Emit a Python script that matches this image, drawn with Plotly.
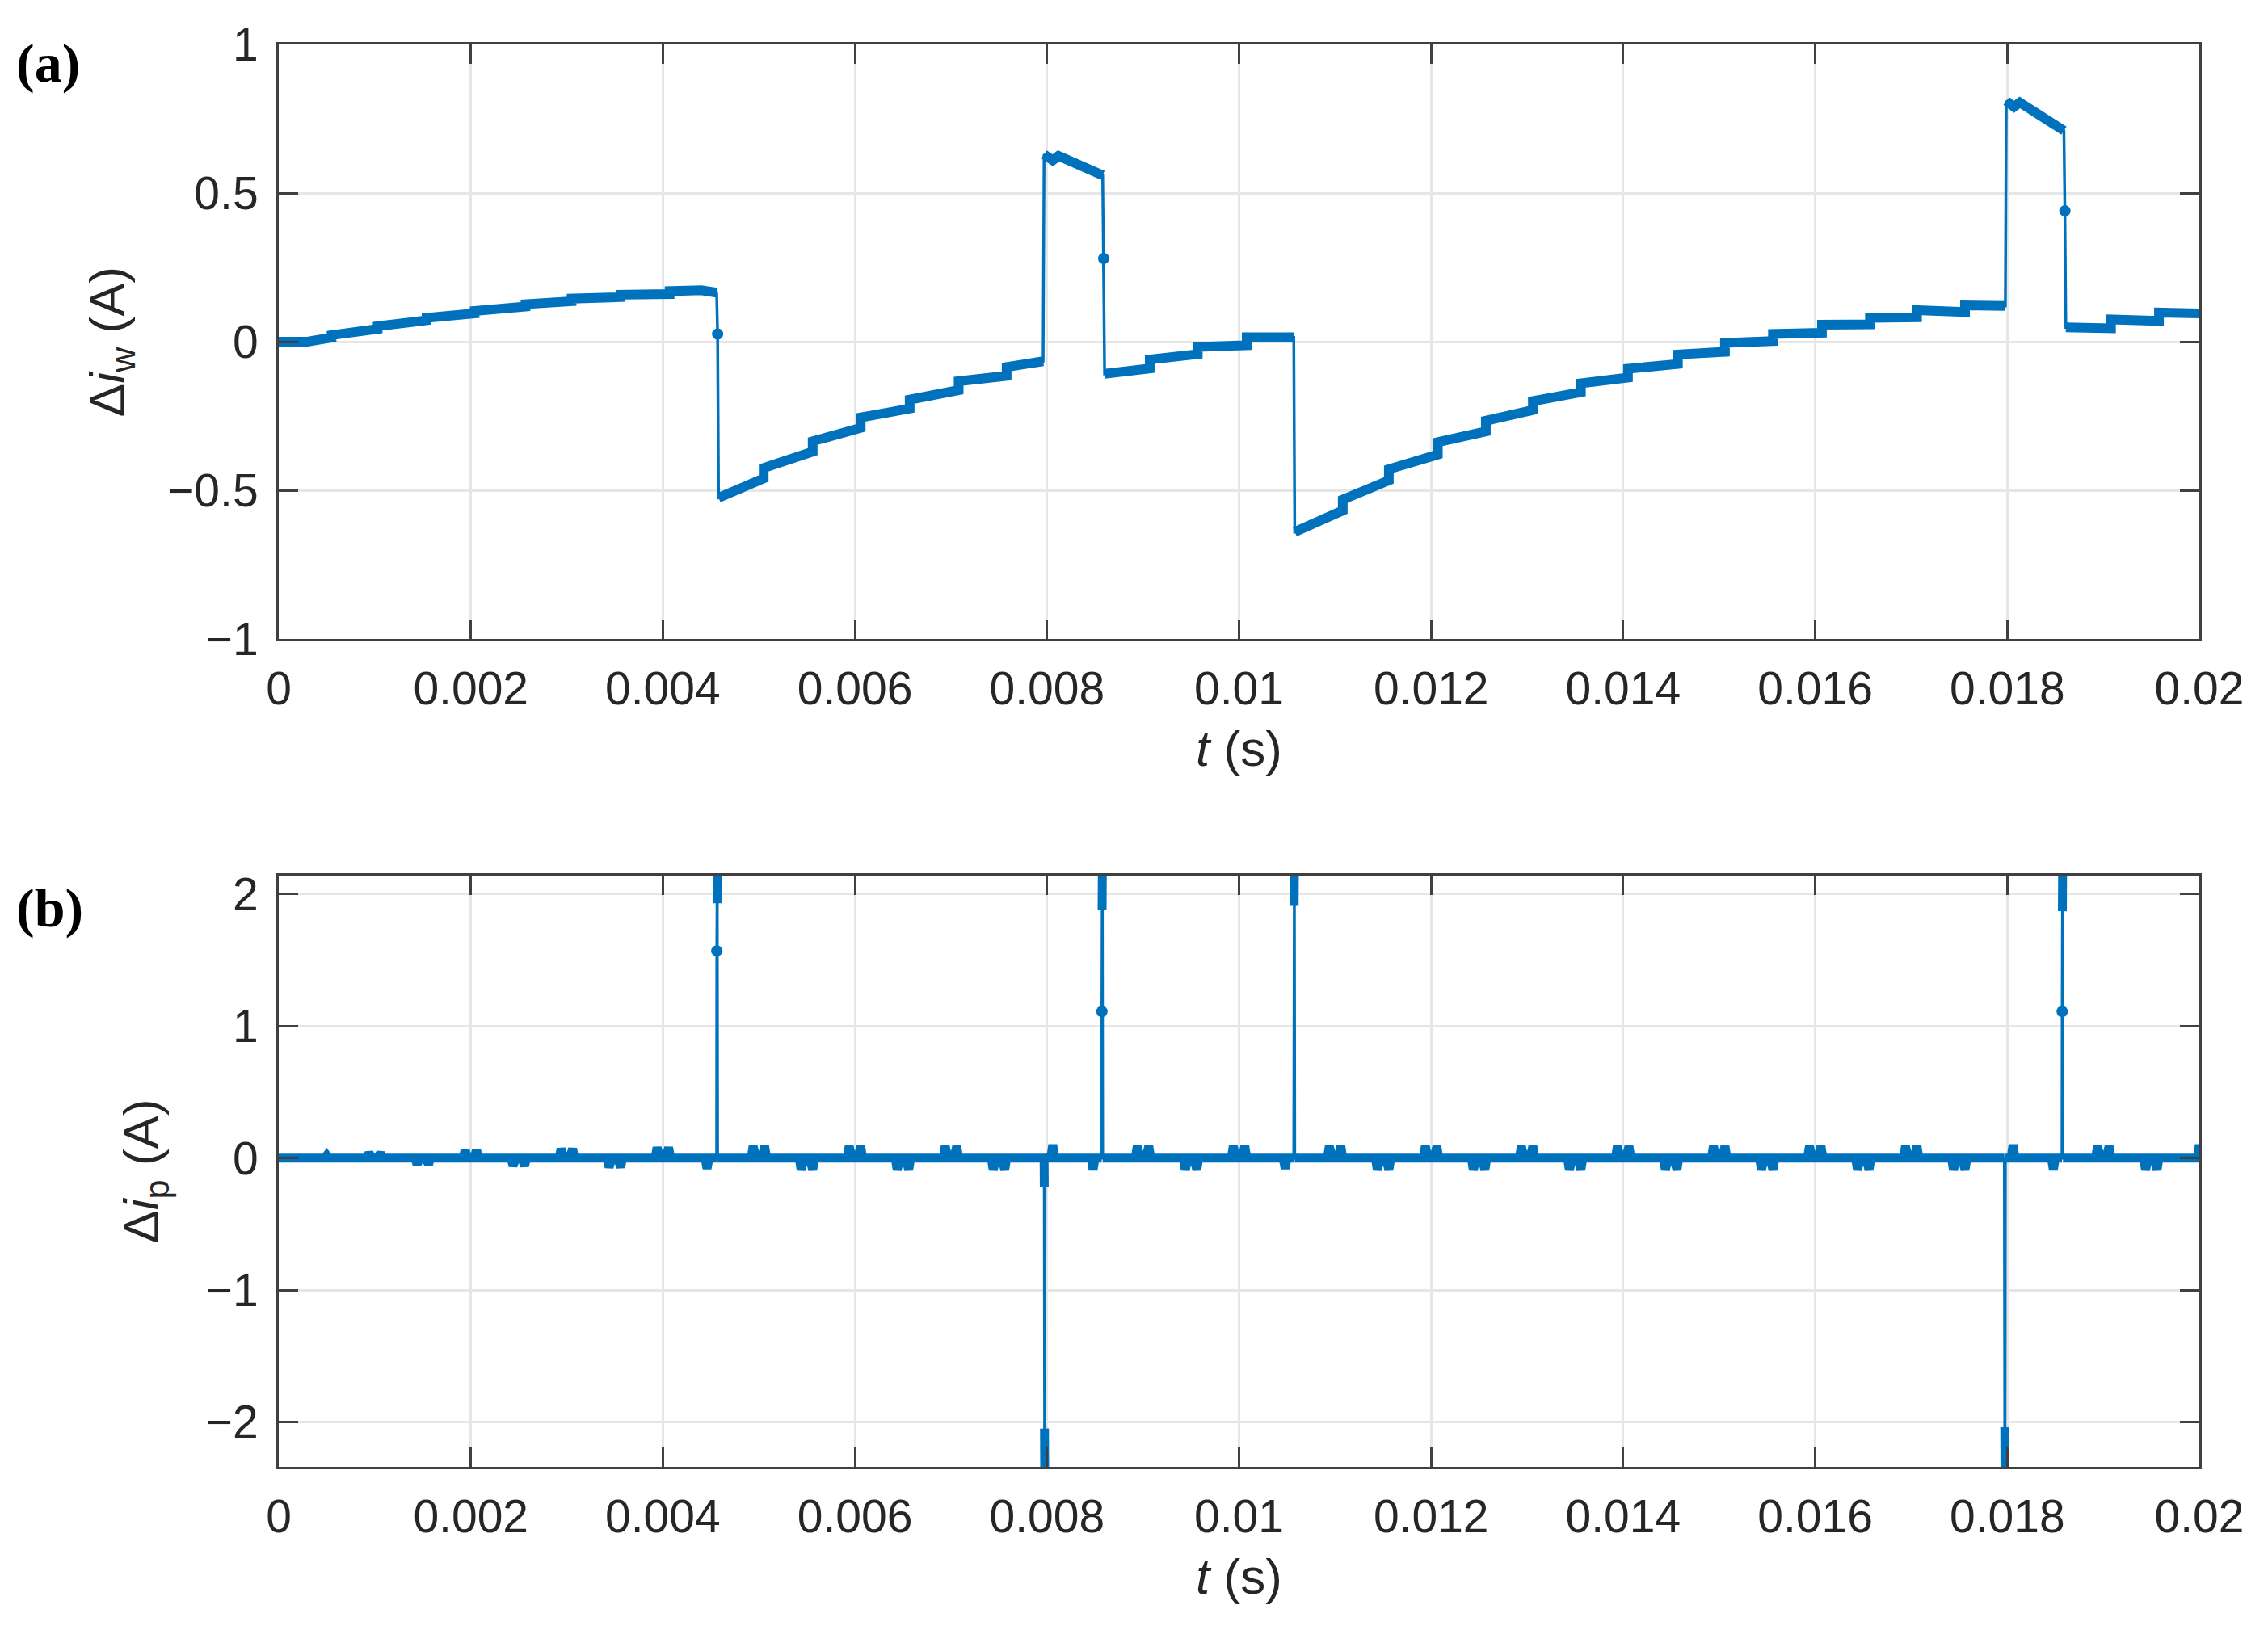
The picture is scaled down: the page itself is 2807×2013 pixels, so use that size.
import plotly.graph_objects as go

BLUE = "#0072BD"
AXC = "#404040"
GRID = "#e6e6e6"
FONT = "Liberation Sans"

# ---------------- data: panel (a) Δi_w (A) ----------------
t_w = [0.0000, 0.0003, 0.00055, 0.00055, 0.00103, 0.00103, 0.00154, 0.00154,
       0.00204, 0.00204, 0.00257, 0.00257, 0.00305, 0.00305, 0.00356, 0.00356,
       0.00407, 0.00407, 0.00440, 0.00456, 0.00457, 0.00458,
       0.00505, 0.00505, 0.00556, 0.00556, 0.00606, 0.00606, 0.00657, 0.00657,
       0.00708, 0.00708, 0.00758, 0.00758, 0.00796, 0.00797, 0.00806, 0.00812,
       0.00858, 0.00859, 0.00860,
       0.00907, 0.00907, 0.00957, 0.00957, 0.01008, 0.01008, 0.01040, 0.01057,
       0.01058,
       0.01108, 0.01108, 0.01156, 0.01156, 0.01207, 0.01207, 0.01257, 0.01257,
       0.01306, 0.01306, 0.01356, 0.01356, 0.01405, 0.01405, 0.01457, 0.01457,
       0.01506, 0.01506, 0.01556, 0.01556, 0.01607, 0.01607, 0.01657, 0.01657,
       0.01706, 0.01706, 0.01756, 0.01756, 0.01798, 0.01799, 0.01807, 0.01813,
       0.01859, 0.01860, 0.01861,
       0.01908, 0.01908, 0.01958, 0.01958, 0.02000]
i_w = [0.000, 0.000, 0.014, 0.022, 0.043, 0.052, 0.072, 0.080,
       0.095, 0.103, 0.118, 0.126, 0.136, 0.145, 0.150, 0.158,
       0.160, 0.170, 0.173, 0.165, 0.026, -0.525,
       -0.460, -0.425, -0.370, -0.335, -0.290, -0.255, -0.225, -0.195,
       -0.163, -0.133, -0.115, -0.085, -0.066, 0.630, 0.610, 0.625,
       0.560, 0.280, -0.108,
       -0.090, -0.060, -0.042, -0.018, -0.012, 0.015, 0.020, 0.015,
       -0.640,
       -0.568, -0.531, -0.467, -0.429, -0.380, -0.338, -0.302, -0.266,
       -0.230, -0.200, -0.170, -0.140, -0.121, -0.091, -0.075, -0.043,
       -0.034, -0.004, 0.002, 0.026, 0.030, 0.057, 0.058, 0.080,
       0.082, 0.106, 0.100, 0.122, 0.120, 0.810, 0.790, 0.805,
       0.710, 0.440, 0.048,
       0.045, 0.075, 0.070, 0.098, 0.095]

# ---------------- data: panel (b) Δi_p (A) ----------------
pair_t = [0.0010, 0.0015, 0.0020, 0.0025, 0.0030, 0.0035, 0.0040,
          0.0050, 0.0055, 0.0060, 0.0065, 0.0070, 0.0075,
          0.0090, 0.0095, 0.0100, 0.0110, 0.0115, 0.0120, 0.0125,
          0.0130, 0.0135, 0.0140, 0.0145, 0.0150, 0.0155, 0.0160,
          0.0165, 0.0170, 0.0175, 0.0190, 0.0195]
pair_amp = [0.04, -0.05, 0.06, -0.06, 0.07, -0.07, 0.08,
            0.09, -0.09, 0.09, -0.09, 0.09, -0.09,
            0.09, -0.09, 0.09, 0.09, -0.09, 0.09, -0.09,
            0.09, -0.09, 0.09, -0.09, 0.09, -0.09, 0.09,
            -0.09, 0.09, -0.09, 0.09, -0.09]
single_t = [0.0005, 0.00446, 0.00806, 0.00848, 0.01048, 0.01806, 0.01848, 0.0200]
single_amp = [0.02, -0.08, 0.10, -0.09, -0.08, 0.10, -0.09, 0.10]
spike_t = [0.00456, 0.00797, 0.00857, 0.01057, 0.01797, 0.01857]
spike_mid = [1.57, -0.22, 1.11, None, None, 1.11]
spike_near = [1.93, -2.05, 1.88, 1.91, -2.04, 1.87]
spike_tip = [2.14, -2.34, 2.14, 2.14, -2.34, 2.14]

# ---------------- ticks ----------------
x_ticks = [0, 0.002, 0.004, 0.006, 0.008, 0.01, 0.012, 0.014, 0.016, 0.018, 0.02]
x_text = ["0", "0.002", "0.004", "0.006", "0.008", "0.01", "0.012", "0.014",
          "0.016", "0.018", "0.02"]
ya_ticks = [-1, -0.5, 0, 0.5, 1]
ya_text = ["\u22121", "\u22120.5", "0", "0.5", "1"]
yb_ticks = [-2, -1, 0, 1, 2]
yb_text = ["\u22122", "\u22121", "0", "1", "2"]


# ---------------- build panel (b) sample sequence ----------------
pts = [(0.0, 0.0)]
pair_shape = [(-0.00008, 0), (-0.00006, 1), (-0.00003, 0), (0.00003, 0), (0.00006, 1), (0.00008, 0)]
for c, a in zip(pair_t, pair_amp):
    pts += [(c + dt, a * k) for dt, k in pair_shape]
for c, a in zip(single_t, single_amp):
    pts += [(c - 0.00002, 0.0), (c, a), (c + 0.00002, 0.0)]
for c, m, n, tp in zip(spike_t, spike_mid, spike_near, spike_tip):
    seq = [(c, 0.0)]
    if m is not None:
        seq.append((c + 0.000002, m))
    seq += [(c + 0.000004, n), (c + 0.000006, tp), (c + 0.00001, 0.0)]
    pts += seq
pts.sort(key=lambda p: p[0])
t_p = [p[0] for p in pts]
i_p = [p[1] for p in pts]


def split_traces(t, v, thr):
    """thick pieces (gaps at large jumps) and isolated points"""
    tx, ty = [], []
    iso_x, iso_y = [], []
    n = len(t)
    for k in range(n):
        if k > 0 and abs(v[k] - v[k - 1]) > thr:
            tx.append(None)
            ty.append(None)
        tx.append(t[k])
        ty.append(v[k])
        left = k == 0 or abs(v[k] - v[k - 1]) > thr
        right = k == n - 1 or abs(v[k + 1] - v[k]) > thr
        if left and right:
            iso_x.append(t[k])
            iso_y.append(v[k])
    return tx, ty, iso_x, iso_y


fig = go.Figure()


def add_series(t, v, thr, xa, ya, thick):
    tx, ty, ix, iy = split_traces(t, v, thr)
    fig.add_trace(go.Scatter(x=t, y=v, mode="lines", line=dict(color=BLUE, width=3.5),
                             xaxis=xa, yaxis=ya, showlegend=False, hoverinfo="skip"))
    fig.add_trace(go.Scatter(x=tx, y=ty, mode="lines", line=dict(color=BLUE, width=thick),
                             connectgaps=False, xaxis=xa, yaxis=ya, showlegend=False,
                             hoverinfo="skip"))
    fig.add_trace(go.Scatter(x=ix, y=iy, mode="markers", marker=dict(color=BLUE, size=14),
                             xaxis=xa, yaxis=ya, showlegend=False, hoverinfo="skip"))


add_series(t_w, i_w, 0.1, "x", "y", 12)
add_series(t_p, i_p, 0.3, "x2", "y2", 11)

W, H = 2807, 2013
xdom = [337 / W, 2714 / W]
ya_dom = [1 - 783 / H, 1 - 47 / H]
yb_dom = [1 - 1808 / H, 1 - 1076 / H]

common_x = dict(range=[0, 0.02], tickvals=x_ticks, ticktext=x_text, showgrid=True,
                gridcolor=GRID, gridwidth=2.5, zeroline=False, showline=True,
                linecolor=AXC, linewidth=3, mirror="ticks", ticks="inside", ticklen=24,
                tickwidth=3, tickcolor=AXC, tickfont=dict(family=FONT, size=57, color="#262626"),
                ticklabelstandoff=10, domain=xdom, automargin=False)
common_y = dict(showgrid=True, gridcolor=GRID, gridwidth=2.5, zeroline=False, showline=True,
                linecolor=AXC, linewidth=3, mirror="ticks", ticks="inside", ticklen=24,
                tickwidth=3, tickcolor=AXC, tickfont=dict(family=FONT, size=57, color="#262626"),
                ticklabelstandoff=11, automargin=False)

xtitle = dict(text="<i>t</i> (s)", font=dict(family=FONT, size=62, color="#262626"), standoff=22)

fig.update_layout(
    width=W, height=H,
    margin=dict(l=0, r=0, t=0, b=0, autoexpand=False),
    paper_bgcolor="white", plot_bgcolor="white",
    xaxis=dict(**common_x, anchor="y", title=xtitle),
    yaxis=dict(**common_y, range=[-1, 1], tickvals=ya_ticks, ticktext=ya_text,
               domain=ya_dom, anchor="x",
               title=dict(text="\u0394<i>i</i><sub>w</sub> (A)",
                          font=dict(family=FONT, size=62, color="#262626"), standoff=33)),
    xaxis2=dict(**common_x, anchor="y2", title=xtitle),
    yaxis2=dict(**common_y, range=[-2.34, 2.14], tickvals=yb_ticks, ticktext=yb_text,
                domain=yb_dom, anchor="x2",
                title=dict(text="\u0394<i>i</i><sub>p</sub> (A)",
                           font=dict(family=FONT, size=62, color="#262626"), standoff=38)),
    annotations=[
        dict(text="<b>(a)</b>", x=10 / W, y=1 - 70 / H, xref="paper", yref="paper",
             xanchor="left", yanchor="middle", showarrow=False,
             font=dict(family="Liberation Serif", size=68, color="black")),
        dict(text="<b>(b)</b>", x=10 / W, y=1 - 1116 / H, xref="paper", yref="paper",
             xanchor="left", yanchor="middle", showarrow=False,
             font=dict(family="Liberation Serif", size=68, color="black")),
    ],
)

fig.write_html("out.html")
